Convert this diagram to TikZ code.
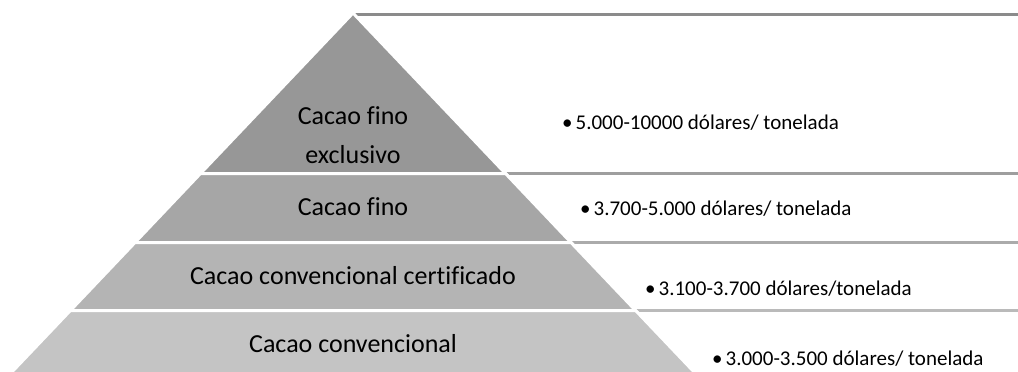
\documentclass[tikz,border=0pt]{standalone}
\usepackage{fontspec}
\setmainfont{Carlito}[Ligatures={NoCommon}]
\usetikzlibrary{calc}
\definecolor{lvlone}{HTML}{979797}
\definecolor{lvltwo}{HTML}{A6A6A6}
\definecolor{lvlthree}{HTML}{B4B4B4}
\definecolor{lvlfour}{HTML}{C4C4C4}
\tikzset{
	pyrtext/.style={anchor=base, inner sep=0pt, font=\fontsize{26}{31}\selectfont},
	pricetext/.style={anchor=base west, inner sep=0pt, font=\fontsize{21}{25}\selectfont},
	layer/.style={draw=white, line width=3pt, line join=miter},
	rule/.style={line width=2.6pt}
}
\def\price#1{\textbullet\kern3pt #1}

\begin{document}
\begin{tikzpicture}[x=1pt, y=-1pt]
		%%%%% START %%%%%
		\useasboundingbox (0, 0) rectangle (1018, 372);
		\clip (0, 0) rectangle (1018, 372);
		
		\draw[rule, color=lvlone!92!black] (355, 14.5) -- (1018, 14.5);
		\draw[rule, color=lvltwo!95!black] (505.5, 173.5) -- (1018, 173.5);
		\draw[rule, color=lvlthree!95!black] (571, 242.5) -- (1018, 242.5);
		\draw[rule, color=lvlfour!95!black] (635.6, 310.5) -- (1018, 310.5);
		
		\draw[layer, fill=lvlone] (353, 13) -- (505.5, 173.5) -- (200.5, 173.5) -- cycle;
		\draw[layer, fill=lvltwo] (200.5, 173.5) -- (505.5, 173.5) -- (571, 242.5) -- (135, 242.5) -- cycle;
		\draw[layer, fill=lvlthree] (135, 242.5) -- (571, 242.5) -- (635.6, 310.5) -- (70.4, 310.5) -- cycle;
		\draw[layer, fill=lvlfour] (70.4, 310.5) -- (635.6, 310.5) -- (701.7, 380) -- (4.3, 380) -- cycle;
		
		\node[pyrtext] (exclA) at (353, 124) {Cacao fino};
		\node[pyrtext] (exclB) at (353, 163) {exclusivo};
		\node[pyrtext] (fino) at (353, 215) {Cacao fino};
		\node[pyrtext] (certif) at (353, 284) {Cacao convencional certificado};
		\node[pyrtext] (conv) at (353, 352) {Cacao convencional};
		
		\node[pricetext] (pexcl) at (562, 129) {\price{5.000-10000 dólares/ tonelada}};
		\node[pricetext] (pfino) at (580, 215) {\price{3.700-5.000 dólares/ tonelada}};
		\node[pricetext] (pcertif) at (645, 295) {\price{3.100-3.700 dólares/tonelada}};
		\node[pricetext] (pconv) at (712, 365) {\price{3.000-3.500 dólares/ tonelada}};
		
		%%%%% END %%%%%
	\end{tikzpicture}
\end{document}
